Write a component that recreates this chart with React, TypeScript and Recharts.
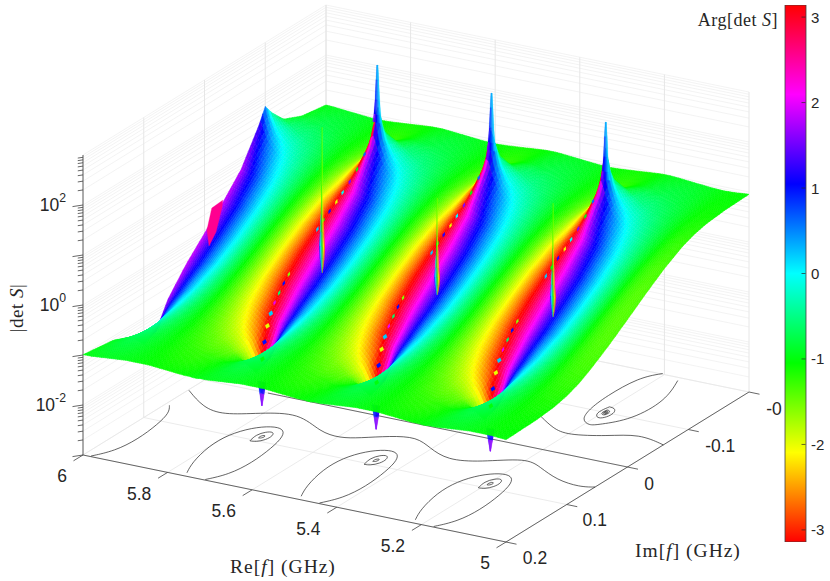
import React from 'react';
import { ComposedChart, BarChart, Bar, Line, Scatter, XAxis, YAxis } from 'recharts';

// ---- values ----
const imRows = [-0.2, -0.16, -0.13, -0.11, -0.1, -0.09, -0.06, -0.03, 0, 0.03, 0.06, 0.08, 0.1, 0.12, 0.15, 0.2];
const uCols = [0, 0.02, 0.04, 0.1, 0.2, 0.3, 0.4, 0.5, 0.6, 0.7, 0.8, 0.9, 0.96, 0.98, 1];
const logHeight = [
  [1.0, 1.0, 1.0, 0.99, 0.97, 0.95, 0.93, 0.92, 0.93, 0.95, 0.97, 0.99, 1.0, 1.0, 1.0],
  [1.08, 1.08, 1.08, 1.05, 0.98, 0.92, 0.88, 0.87, 0.88, 0.92, 0.98, 1.05, 1.08, 1.08, 1.08],
  [1.26, 1.25, 1.23, 1.14, 0.97, 0.87, 0.81, 0.79, 0.81, 0.87, 0.97, 1.14, 1.23, 1.25, 1.26],
  [1.64, 1.58, 1.47, 1.19, 0.93, 0.8, 0.73, 0.71, 0.73, 0.8, 0.93, 1.19, 1.47, 1.58, 1.64],
  [2.3, 1.86, 1.56, 1.16, 0.89, 0.75, 0.69, 0.66, 0.69, 0.75, 0.89, 1.16, 1.56, 1.86, 2.3],
  [1.54, 1.48, 1.37, 1.08, 0.83, 0.7, 0.63, 0.61, 0.63, 0.7, 0.83, 1.08, 1.37, 1.48, 1.54],
  [0.76, 0.76, 0.75, 0.69, 0.57, 0.49, 0.44, 0.43, 0.44, 0.49, 0.57, 0.69, 0.75, 0.76, 0.76],
  [0.32, 0.32, 0.32, 0.3, 0.26, 0.23, 0.21, 0.2, 0.21, 0.23, 0.26, 0.3, 0.32, 0.32, 0.32],
  [-0.07, -0.07, -0.06, -0.06, -0.05, -0.05, -0.04, -0.04, -0.04, -0.05, -0.05, -0.06, -0.06, -0.07, -0.07],
  [-0.46, -0.46, -0.45, -0.43, -0.37, -0.32, -0.29, -0.28, -0.29, -0.32, -0.37, -0.43, -0.45, -0.46, -0.46],
  [-0.95, -0.94, -0.92, -0.83, -0.67, -0.56, -0.51, -0.49, -0.51, -0.56, -0.67, -0.83, -0.92, -0.94, -0.95],
  [-1.54, -1.48, -1.37, -1.08, -0.83, -0.7, -0.63, -0.61, -0.63, -0.7, -0.83, -1.08, -1.37, -1.48, -1.54],
  [-1.64, -1.58, -1.47, -1.19, -0.93, -0.8, -0.73, -0.71, -0.73, -0.8, -0.93, -1.19, -1.47, -1.58, -1.64],
  [-1.26, -1.25, -1.23, -1.14, -0.97, -0.87, -0.81, -0.79, -0.81, -0.87, -0.97, -1.14, -1.23, -1.25, -1.26],
  [-1.08, -1.08, -1.08, -1.05, -0.98, -0.92, -0.88, -0.87, -0.88, -0.92, -0.98, -1.05, -1.08, -1.08, -1.08],
  [-1.0, -1.0, -0.99, -0.99, -0.97, -0.95, -0.93, -0.93, -0.93, -0.95, -0.97, -0.99, -0.99, -1.0, -1.0],
];
const argRows = [
  [0, -0.02, -0.03, -0.06, -0.09, -0.09, -0.05, 0, 0.05, 0.09, 0.09, 0.06, 0.03, 0.02, 0],
  [0, -0.04, -0.08, -0.18, -0.25, -0.21, -0.12, 0, 0.12, 0.21, 0.25, 0.18, 0.08, 0.04, 0],
  [0, -0.12, -0.23, -0.45, -0.5, -0.38, -0.2, 0, 0.2, 0.38, 0.5, 0.45, 0.23, 0.12, 0],
  [0, -0.44, -0.7, -0.91, -0.78, -0.54, -0.27, 0, 0.27, 0.54, 0.78, 0.91, 0.7, 0.44, 0],
  [-1.57, -1.51, -1.44, -1.25, -0.93, -0.62, -0.31, 0, 0.31, 0.62, 0.93, 1.25, 1.44, 1.51, 1.57],
  [-3.14, -2.58, -2.18, -1.59, -1.09, -0.7, -0.34, 0, 0.34, 0.7, 1.09, 1.59, 2.18, 2.58, 3.14],
  [-3.14, -2.93, -2.73, -2.17, -1.45, -0.91, -0.44, 0, 0.44, 0.91, 1.45, 2.17, 2.73, 2.93, 3.14],
  [-3.14, -2.98, -2.81, -2.34, -1.63, -1.03, -0.5, 0, 0.5, 1.03, 1.63, 2.34, 2.81, 2.98, 3.14],
  [-3.14, -2.98, -2.83, -2.37, -1.67, -1.05, -0.51, 0, 0.51, 1.05, 1.67, 2.37, 2.83, 2.98, 3.14],
  [-3.14, -2.97, -2.8, -2.3, -1.59, -1, -0.48, 0, 0.48, 1, 1.59, 2.3, 2.8, 2.97, 3.14],
  [-3.14, -2.89, -2.65, -2.04, -1.35, -0.85, -0.41, 0, 0.41, 0.85, 1.35, 2.04, 2.65, 2.89, 3.14],
  [-3.14, -2.58, -2.18, -1.59, -1.09, -0.7, -0.34, 0, 0.34, 0.7, 1.09, 1.59, 2.18, 2.58, 3.14],
  [0, -0.44, -0.7, -0.91, -0.78, -0.54, -0.27, 0, 0.27, 0.54, 0.78, 0.91, 0.7, 0.44, 0],
  [0, -0.12, -0.23, -0.45, -0.5, -0.38, -0.2, 0, 0.2, 0.38, 0.5, 0.45, 0.23, 0.12, 0],
  [0, -0.04, -0.08, -0.18, -0.25, -0.21, -0.12, 0, 0.12, 0.21, 0.25, 0.18, 0.08, 0.04, 0],
  [0, -0.01, -0.02, -0.05, -0.07, -0.07, -0.04, 0, 0.04, 0.07, 0.07, 0.05, 0.02, 0.01, 0],
];
const argOffset = -1;
const resonanceRe = [4.925, 5.195, 5.465, 5.735, 6.008];
const edgeRe = [5, 5.03, 5.06, 6];
const edgeArgScale = [0.3, 0.6, 1, 1];
const notchIm = [-0.004, -0.012, -0.03, -0.029, -0.019, -0.0074];
const notchLevel = [-0.03, 0.348, 0.372, 0.244, -0.18, -0.376];
const notchArg = 2.55;

const poleRe = [5.735, 5.465, 5.195];
const poleIm = -0.1;
const poleTop = [3.01, 2.92, 2.81];
const poleDrop = [0, 0.3, 0.7, 1.0, 1.15];
const poleHalf = [0.0012, 0.0035, 0.0055, 0.0083, 0.011];
const poleLeftArg = [0.2, 0.8, 1.1, 1.4, 2];
const poleRightArg = [0.3, 0.2, 0.1, 0.1, 0];

const sliverRe = [5.679, 5.407, 5.133];
const sliverIm = 0.03;
const sliverBottom = [-0.076, -0.044, -0.006];
const sliverTop = [2.84, 1.9, 2.27];
const sliverFrac = [0, 0.04, 0.1, 0.18, 0.28, 0.4, 0.6, 1];
const sliverHalf = [0.001, 0.003, 0.0055, 0.0068, 0.005, 0.003, 0.0014, 0.0006];
const sliverLeftArg = [1.1, 1.1, 1.1, 1.1, 0.6, -0.4, -1.1, -1.3];
const sliverRightArg = [-3, -3, -3, -3, -3, -2.4, -1.9, -1.7];

const dipRe = [5.735, 5.465, 5.195];
const dipIm = 0.09;
const dipTip = [-2.38, -2.38, -2.35];
const dipTopLevel = -1.9;
const dipFrac = [0, 0.5, 1];
const dipHalf = [0.0095, 0.0055, 0.0007];
const dipLeftArg = [0.7, 1.0, 2];
const dipRightArg = [1.1, 1.3, 2];

const cutIm = [0.085, 0.076, 0.067, 0.058, 0.049, 0.04, 0.031, 0.022, -0.025, -0.034, -0.043, -0.052, -0.061, -0.07, -0.079, -0.088];
const cutShift = [0.006, 0.014, 0.02, 0.025, 0.029, 0.031, 0.033, 0.034, 0.034, 0.033, 0.031, 0.028, 0.026, 0.022, 0.018, 0.013];
const cutArg = [-1, 1, -2, 0.2, 2, -0.6, 1, -1.6, 0.2, -1, 1.2, -2, 0, 1.6, -1, 0.6];

const bigRingDRe = [0.0296, 0.0494, 0.0678, 0.0656, 0.0436, 0.013, -0.0155, -0.0366, -0.0493, -0.057, -0.0493, -0.0222];
const bigRingDIm = [0.1028, 0.0808, 0.0405, 0.0091, -0.0139, -0.0255, -0.0249, -0.0102, 0.0179, 0.0561, 0.0891, 0.1087];
const midRingDRe = [0.0098, 0.0163, 0.0073, -0.0069, -0.0166, -0.0157, -0.0038, 0.0098];
const midRingDIm = [0.0129, -0.0015, -0.0116, -0.0149, -0.0065, 0.0044, 0.0125, 0.0129];
const coreRingDRe = [0.003, 0.0045, 0.002, -0.002, -0.0045, -0.004, -0.001, 0.003];
const coreRingDIm = [0.0035, -0.0005, -0.003, -0.004, -0.002, 0.0012, 0.0034, 0.0035];
const poleRingDRe = [0.011, 0.0421, 0.046, 0.0387, 0.0225, -0.0072, -0.0221, -0.0662, -0.0719, -0.0358];
const poleRingDIm = [-0.1014, -0.0836, -0.032, 0.001, 0.0239, 0.033, 0.0269, 0.0033, -0.0487, -0.0936];
const lowerWaveRe = [5.998, 5.925, 5.867, 5.807, 5.736, 5.646, 5.593, 5.558, 5.51, 5.459, 5.405, 5.34, 5.276, 5.204, 5.155, 5.088, 5.027, 5.0];
const lowerWaveIm = [0.027, 0.055, 0.0624, 0.043, 0.0267, 0.0565, 0.0603, 0.052, 0.0357, 0.0266, 0.0432, 0.0602, 0.0507, 0.0234, 0.036, 0.055, 0.0596, 0.0534];
const upperWaveRe = [5.3, 5.244, 5.199, 5.125, 5.073, 5.0];
const upperWaveIm = [-0.066, -0.047, -0.039, -0.0536, -0.071, -0.059];

const reTicks = [6, 5.8, 5.6, 5.4, 5.2, 5];
const reTickText = ['6', '5.8', '5.6', '5.4', '5.2', '5'];
const imTicks = [0.2, 0.1, 0, -0.1, -0.2];
const imTickText = ['0.2', '0.1', '0', '-0.1', '-0'];
const decades = [-3, -2, -1, 0, 1, 2];
const minorSteps = [1, 2, 3, 4, 5, 6, 7, 8, 9];
const zLabels = [2, 0, -2];
const cbTicks = [-3, -2, -1, 0, 1, 2, 3];
const cbStops = ['#ff0000', '#ffff00', '#00ff00', '#00ffff', '#0000ff', '#ff00ff', '#ff0000'];

// ---- view of the 3-D box ----
const project = (re: number, im: number, z: number) => {
  const a = 6 - re;
  const b = (0.2 - im) / 0.4;
  return { x: 83 + a * 423 + b * 243, y: 455 + a * 87 - b * 150 - (z + 3) * 50 };
};
const hue = (arg: number) => {
  let h = ((arg + Math.PI) / (2 * Math.PI)) % 1;
  if (h < 0) h += 1;
  const s = h * 6;
  const i = Math.floor(s);
  const f = s - i;
  const c = [
    [1, f, 0], [1 - f, 1, 0], [0, 1, f], [0, 1 - f, 1], [f, 0, 1], [1, 0, 1 - f],
  ][i % 6];
  return `rgb(${Math.round(c[0] * 255)},${Math.round(c[1] * 255)},${Math.round(c[2] * 255)})`;
};
const slot = (list: number[], v: number) => {
  let i = 0;
  while (i < list.length - 2 && v > list[i + 1]) i++;
  return { i, t: Math.min(1, Math.max(0, (v - list[i]) / (list[i + 1] - list[i]))) };
};
const tableAt = (table: number[][], re: number, im: number) => {
  const k = slot(resonanceRe, re);
  const u = slot(uCols, k.t);
  const r = slot(imRows, im);
  const a = table[r.i][u.i] * (1 - u.t) + table[r.i][u.i + 1] * u.t;
  const b = table[r.i + 1][u.i] * (1 - u.t) + table[r.i + 1][u.i + 1] * u.t;
  return a * (1 - r.t) + b * r.t;
};
const edgeAt = (re: number) => {
  const e = slot(edgeRe, re);
  return edgeArgScale[e.i] * (1 - e.t) + edgeArgScale[e.i + 1] * e.t;
};
const f1 = (v: number) => v.toFixed(1);
const poly = (pts: { x: number; y: number }[]) => 'M' + pts.map((p) => `${f1(p.x)} ${f1(p.y)}`).join('L') + 'Z';

type Cell = { d: string; fill: string };
type Group = { x: number; y: number; cells: Cell[]; sw?: number };

const reCount = 210;
const imCount = 100;
const surfaceRows: Group[] = [];
for (let j = 0; j < imCount; j++) {
  const i0 = -0.2 + (0.4 * j) / imCount;
  const i1 = -0.2 + (0.4 * (j + 1)) / imCount;
  const cells: Cell[] = [];
  for (let i = 0; i < reCount; i++) {
    const r0 = 6 - i / reCount;
    const r1 = 6 - (i + 1) / reCount;
    const rc = (r0 + r1) / 2;
    const ic = (i0 + i1) / 2;
    cells.push({
      d: poly([
        project(r0, i0, tableAt(logHeight, r0, i0)),
        project(r1, i0, tableAt(logHeight, r1, i0)),
        project(r1, i1, tableAt(logHeight, r1, i1)),
        project(r0, i1, tableAt(logHeight, r0, i1)),
      ]),
      fill: hue(tableAt(argRows, rc, ic) * edgeAt(rc) + argOffset),
    });
  }
  surfaceRows.push({ x: 0, y: 0, cells, sw: 0.5 });
}
const notchGroup: Group[] = [{
  x: 0, y: 0, sw: 0.3,
  cells: [{ d: poly(notchIm.map((im, n) => project(6, im, notchLevel[n]))), fill: hue(notchArg) }],
}];

const across = 6;
const stripCells = (re: number, im: number, levels: number[], halves: number[], left: number[], right: number[]) => {
  const cells: Cell[] = [];
  for (let l = 0; l < levels.length - 1; l++) {
    for (let c = 0; c < across; c++) {
      const s0 = -1 + (2 * c) / across;
      const s1 = -1 + (2 * (c + 1)) / across;
      const mid = (c + 0.5) / across;
      cells.push({
        d: poly([
          project(re - s0 * halves[l], im, levels[l]),
          project(re - s1 * halves[l], im, levels[l]),
          project(re - s1 * halves[l + 1], im, levels[l + 1]),
          project(re - s0 * halves[l + 1], im, levels[l + 1]),
        ]),
        fill: hue(((left[l] + left[l + 1]) / 2) * (1 - mid) + ((right[l] + right[l + 1]) / 2) * mid),
      });
    }
  }
  return cells;
};
const dipGroup: Group[] = dipRe.map((re, n) => ({
  x: 0, y: 0, sw: 0.2,
  cells: stripCells(re, dipIm, dipFrac.map((f) => dipTopLevel + (dipTip[n] - dipTopLevel) * f), dipHalf, dipLeftArg, dipRightArg),
}));
const poleGroup: Group[] = poleRe.map((re, n) => ({
  x: 0, y: 0, sw: 0.2,
  cells: stripCells(re, poleIm, poleDrop.map((d) => poleTop[n] - d), poleHalf, poleLeftArg, poleRightArg),
}));
const sliverGroup: Group[] = sliverRe.map((re, n) => ({
  x: 0, y: 0, sw: 0.05,
  cells: stripCells(re, sliverIm, sliverFrac.map((f) => sliverBottom[n] + (sliverTop[n] - sliverBottom[n]) * f), sliverHalf, sliverLeftArg, sliverRightArg),
}));
const cutGroup: Group[] = dipRe.map((re) => ({
  x: 0, y: 0, sw: 0.1,
  cells: cutIm.map((im, n) => {
    const rr = re + cutShift[n];
    const z = tableAt(logHeight, rr, im);
    const w = n < 4 ? 0.0055 : 0.0028;
    const c = project(rr, im, z);
    const e = project(rr - w, im, z);
    const g = { x: c.x + 1, y: c.y - 2.8 };
    const h = { x: c.x - 1, y: c.y + 2.8 };
    const o = { x: 2 * c.x - e.x, y: 2 * c.y - e.y };
    return { d: poly([o, g, e, h]), fill: hue(cutArg[n]) };
  }),
}));

type P = { x: number; y: number | null };
const seg = (...pts: { x: number; y: number }[]): P[] => [...pts, { x: pts[pts.length - 1].x, y: null }];
const wallLevels: P[] = [];
decades.forEach((d) => minorSteps.forEach((m) => {
  const z = d + Math.log10(m);
  wallLevels.push(...seg(project(6, 0.2, z), project(6, -0.2, z), project(5, -0.2, z)));
}));
wallLevels.push(...seg(project(6, 0.2, 3), project(6, -0.2, 3), project(5, -0.2, 3)));
const wallUprights: P[] = [];
imTicks.forEach((im) => wallUprights.push(...seg(project(6, im, -3), project(6, im, 3))));
reTicks.forEach((re) => wallUprights.push(...seg(project(re, -0.2, -3), project(re, -0.2, 3))));
const floorGrid: P[] = [];
reTicks.forEach((re) => floorGrid.push(...seg(project(re, 0.2, -3), project(re, -0.2, -3))));
imTicks.forEach((im) => floorGrid.push(...seg(project(6, im, -3), project(5, im, -3))));

const off = (p: { x: number; y: number }, dx: number, dy: number) => ({ x: p.x + dx, y: p.y + dy });
const axisFrame: P[] = [
  ...seg(project(6, 0.2, -3), project(6, 0.2, 3)),
  ...seg(project(6, 0.2, -3), project(5, 0.2, -3), project(5, -0.2, -3)),
];
reTicks.forEach((re) => { const p = project(re, 0.2, -3); axisFrame.push(...seg(p, off(p, -9.5, 5.8))); });
imTicks.forEach((im) => { const p = project(5, im, -3); axisFrame.push(...seg(p, off(p, 10.5, 2.2))); });
decades.forEach((d) => minorSteps.forEach((m) => {
  const p = project(6, 0.2, d + Math.log10(m));
  const len = m === 1 ? 1 : 0.5;
  axisFrame.push(...seg(p, off(p, -10.5 * len, 1.6 * len)));
}));

const ringAt = (re: number, im: number, dre: number[], dim: number[]) =>
  dre.map((v, n) => project(re + v, im + dim[n], -3)).filter((p, n) => re + dre[n] <= 6);
const flipped = (list: number[], k = 1) => list.map((v) => -v * k);
const scaled = (list: number[], k: number) => list.map((v) => v * k);
const contours: { x: number; y: number }[][] = [];
dipRe.forEach((re) => {
  contours.push(ringAt(re, dipIm, bigRingDRe, bigRingDIm));
  contours.push(ringAt(re, dipIm, midRingDRe, midRingDIm));
  contours.push(ringAt(re, dipIm, coreRingDRe, coreRingDIm));
});
contours.push(ringAt(6.005, dipIm, bigRingDRe, bigRingDIm));
contours.push(ringAt(5.195, poleIm, poleRingDRe, poleRingDIm));
contours.push(ringAt(5.195, poleIm, midRingDRe, flipped(midRingDIm)));
contours.push(ringAt(5.195, poleIm, scaled(coreRingDRe, 1.6), flipped(coreRingDIm, 1.6)));
contours.push(ringAt(5.195, poleIm, scaled(coreRingDRe, 1), flipped(coreRingDIm, 1)));
contours.push(ringAt(5.195, poleIm, scaled(coreRingDRe, 0.5), flipped(coreRingDIm, 0.5)));
contours.push(lowerWaveRe.map((re, n) => project(re, lowerWaveIm[n], -3)));
contours.push(upperWaveRe.map((re, n) => project(re, upperWaveIm[n], -3)));
const realAxisContour = [project(5.85, 0, -3), project(5, 0, -3)];

type Part = { t: string; i?: boolean; sup?: boolean };
type Lab = { x: number; y: number; parts: Part[]; size: number; font: string; anchor: string; rotate?: number; ls?: number };
const sans = 'Liberation Sans, Arial, sans-serif';
const serif = 'Liberation Serif, Times New Roman, serif';
const labels: Lab[] = [];
reTicks.forEach((re, n) => {
  const p = project(re, 0.2, -3);
  const d = n === 0 || n === 5 ? [-21, 21] : [-28.5, 21.6];
  labels.push({ x: p.x + d[0], y: p.y + d[1], parts: [{ t: reTickText[n] }], size: 17.5, font: sans, anchor: 'middle' });
});
imTicks.forEach((im, n) => {
  const p = project(5, im, -3);
  const d = [[29, 16], [28, 15.5], [21.5, 17], [32, 16.5], [25, 17]][n];
  labels.push({ x: p.x + d[0], y: p.y + d[1], parts: [{ t: imTickText[n] }], size: 17.5, font: sans, anchor: 'middle' });
});
zLabels.forEach((z) => {
  const p = project(6, 0.2, z);
  labels.push({ x: p.x - 17, y: p.y, parts: [{ t: '10' }, { t: String(z), sup: true }], size: 17.5, font: sans, anchor: 'end' });
});
labels.push({ x: 283, y: 566, parts: [{ t: 'Re[' }, { t: 'f', i: true }, { t: ']  (GHz)' }], size: 19.5, font: serif, anchor: 'middle', ls: 1 });
labels.push({ x: 688, y: 550, parts: [{ t: 'Im[' }, { t: 'f', i: true }, { t: ']  (GHz)' }], size: 19.5, font: serif, anchor: 'middle', ls: 1 });
labels.push({ x: 778, y: 20, parts: [{ t: 'Arg[det ' }, { t: 'S', i: true }, { t: ']' }], size: 18, font: serif, anchor: 'end', ls: 0.5 });
labels.push({ x: 16, y: 308, parts: [{ t: '|det ' }, { t: 'S', i: true }, { t: '|' }], size: 19, font: serif, anchor: 'middle', rotate: -90, ls: 0.5 });

const GroupShape = (props: any) => {
  const cells: Cell[] = props.payload.cells;
  const sw = props.payload.sw;
  return (
    <g transform={`translate(${props.cx - props.payload.x} ${props.cy - props.payload.y})`}>
      {cells.map((c, i) => <path key={i} d={c.d} fill={c.fill} stroke={c.fill} strokeWidth={sw} />)}
    </g>
  );
};
const LabelShape = (props: any) => {
  const l: Lab = props.payload;
  return (
    <text x={props.cx} y={props.cy} fontFamily={l.font} fontSize={l.size} fill="#262626" textAnchor={l.anchor as any} letterSpacing={l.ls}
      dominantBaseline="central" transform={l.rotate ? `rotate(${l.rotate} ${props.cx} ${props.cy})` : undefined}>
      {l.parts.map((p, i) => (
        <tspan key={i} fontStyle={p.i ? 'italic' : 'normal'} fontSize={p.sup ? l.size * 0.7 : l.size} dy={p.sup ? -7 : 0}>{p.t}</tspan>
      ))}
    </text>
  );
};
const CbTick = (props: any) => (
  <g>
    <line x1={805.5 - 4} x2={805.5} y1={props.y} y2={props.y} stroke="#262626" strokeWidth={0.7} />
    <text x={811} y={props.y} fontFamily={sans} fontSize={15} fill="#262626" dominantBaseline="central">{props.payload.value}</text>
  </g>
);
const cbData = [{ name: 'Arg', span: [-Math.PI, Math.PI] }];

const lineProps = { dot: false, isAnimationActive: false, legendType: 'none' as const, activeDot: false };

export default function App() {
  return (
    <div style={{ position: 'absolute', left: 0, top: 0, width: 830, height: 581, background: '#fff' }}>
      <div style={{ position: 'absolute', left: 0, top: 0 }}>
        <ComposedChart width={830} height={581} margin={{ top: 0, right: 0, bottom: 0, left: 0 }}>
          <XAxis type="number" dataKey="x" domain={[0, 830]} hide allowDataOverflow />
          <YAxis type="number" dataKey="y" domain={[0, 581]} reversed hide allowDataOverflow />
          <Line data={wallLevels} dataKey="y" stroke="#ebebeb" strokeWidth={0.6} type="linear" {...lineProps} />
          <Line data={wallUprights} dataKey="y" stroke="#e6e6e6" strokeWidth={1} type="linear" {...lineProps} />
          <Line data={floorGrid} dataKey="y" stroke="#e6e6e6" strokeWidth={0.8} type="linear" {...lineProps} />
          <Line data={axisFrame} dataKey="y" stroke="#404040" strokeWidth={0.8} type="linear" {...lineProps} />
          {contours.map((c, i) => (
            <Line key={i} data={c} dataKey="y" stroke="#222" strokeWidth={0.7} type="basis" {...lineProps} />
          ))}
          <Line data={realAxisContour} dataKey="y" stroke="#333" strokeWidth={0.7} type="linear" {...lineProps} />
          <Scatter data={dipGroup} shape={GroupShape} isAnimationActive={false} />
          <Scatter data={surfaceRows} shape={GroupShape} isAnimationActive={false} />
          <Scatter data={notchGroup} shape={GroupShape} isAnimationActive={false} />
          <Scatter data={cutGroup} shape={GroupShape} isAnimationActive={false} />
          <Scatter data={sliverGroup} shape={GroupShape} isAnimationActive={false} />
          <Scatter data={poleGroup} shape={GroupShape} isAnimationActive={false} />
          <Scatter data={labels} shape={LabelShape} isAnimationActive={false} />
        </ComposedChart>
      </div>
      <div style={{ position: 'absolute', left: 0, top: 0 }}>
        <BarChart width={830} height={581} data={cbData} margin={{ top: 5, right: 0, bottom: 39, left: 785 }} barCategoryGap={0}>
          <defs>
            <linearGradient id="cbGrad" x1="0" y1="1" x2="0" y2="0">
              {cbStops.map((c, i) => <stop key={i} offset={i / 6} stopColor={c} />)}
            </linearGradient>
          </defs>
          <XAxis dataKey="name" hide />
          <YAxis orientation="right" width={24} type="number" domain={[-Math.PI, Math.PI]} ticks={cbTicks} tick={CbTick} axisLine={false} tickLine={false} allowDataOverflow />
          <Bar dataKey="span" fill="url(#cbGrad)" stroke="#404040" strokeWidth={0.8} isAnimationActive={false} />
        </BarChart>
      </div>
    </div>
  );
}
